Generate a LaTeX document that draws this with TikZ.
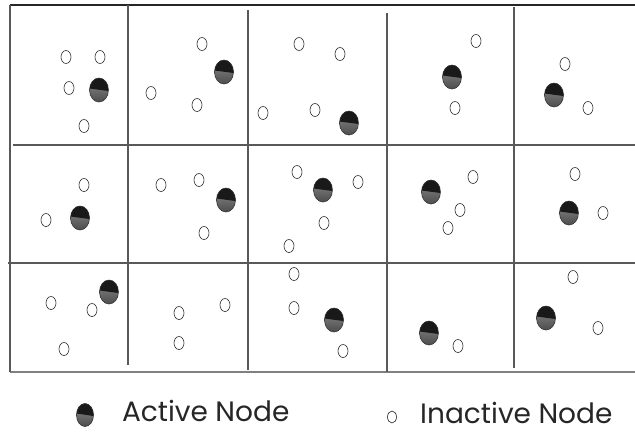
\documentclass[tikz,border=0pt]{standalone}
\usepackage{fontspec}
\setmainfont{Poppins}
\usetikzlibrary{
  positioning,
  shapes.geometric,
  calc
}

\begin{document}
\begin{tikzpicture}[
    x=1pt,y=-1pt,
    grid line/.style={
      draw=black!65,
      line width=1.2pt
    },
    active/.style={
      ellipse,
      inner sep=0pt,
      minimum width=19pt,
      minimum height=24pt,
      draw=black!80,
      line width=0.6pt,
      path picture={
        \shade[top color=black!45, bottom color=black!70]
          (path picture bounding box.south west) rectangle (path picture bounding box.north east);
        \fill[black!90] (path picture bounding box.north west) -- (path picture bounding box.north east)
          -- ($(path picture bounding box.east)+(0,-1pt)$) -- ($(path picture bounding box.west)+(0,1.5pt)$) -- cycle;
      }
    },
    inactive/.style={
      ellipse,
      inner sep=0pt,
      minimum width=10pt,
      minimum height=13pt,
      draw=black!85,
      line width=0.6pt
    },
    legend/.style={
      inner sep=0pt,
      text depth=0pt,
      yshift=4pt,
      font=\fontsize{28}{32}\selectfont,
      text=black!85
    }
  ]
  \useasboundingbox (0,0) rectangle (635,432);

  % Cells
  \draw[black!85, line width=1.2pt] (10,5) -- (635,5);
  \draw[grid line] (13,145) -- (635,145);
  \draw[grid line] (8,263) -- (635,263);
  \draw[grid line, draw=black!50, line width=1.6pt] (10,372) -- (635,372);
  \draw[grid line] (10,5) -- (10,372);
  \draw[grid line] (128,5) -- (128,365);
  \draw[grid line] (248,10) -- (248,370);
  \draw[grid line] (387,13) -- (387,372);
  \draw[grid line] (514,7) -- (514,368);

  % Inactive nodes
  \foreach \n/\x/\y in {
      ia/66/57, ib/100/57, ic/69/88, id/84/126,
      ie/202/44, if/151/93, ig/197/105,
      ih/299/44, ii/340/54, ij/263/113, ik/315/110,
      il/476/41, im/455/108,
      in/565/64, io/588/108,
      ip/84/185, iq/46/220,
      ir/161/185, is/199/180, it/204/233,
      iu/297/172, iv/358/182, iw/324/223, ix/289/246,
      iy/473/177, iz/460/210, iaa/448/228,
      iab/575/174, iac/603/213,
      iad/51/303, iae/92/310, iaf/64/349,
      iag/179/313, iah/225/305, iai/179/343,
      iaj/294/274, iak/294/308, ial/343/351,
      iam/458/346,
      ian/573/277, iao/598/328}
    \node[inactive] (\n) at (\x,\y) {};

  % Active nodes
  \foreach \n/\x/\y in {
      aa/99/90, ab/224/72, ac/349/123, ad/452/77, ae/554/95,
      af/80/218, ag/226/200, ah/323/190, ai/431/192, aj/569/213,
      ak/109/292, al/334/320, am/429/333, an/546/318}
    \node[active] (\n) at (\x,\y) {};

  % Legend
  \node[active, minimum width=17pt, minimum height=23pt] (lgactive) at (85,415) {};
  \node[legend, right=28pt of lgactive] (lgactivetext) {Active Node};
  \node[inactive, minimum width=9pt, minimum height=12pt] (lginactive) at (392,417) {};
  \node[legend, right=28pt of lginactive.center] (lginactivetext) {Inactive Node};
\end{tikzpicture}
\end{document}
